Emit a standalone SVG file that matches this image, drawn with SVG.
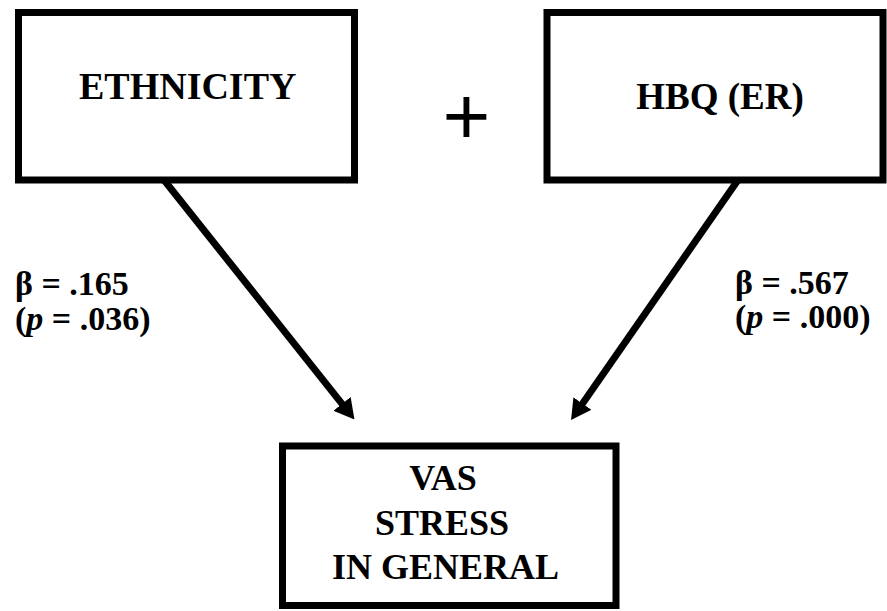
<svg xmlns="http://www.w3.org/2000/svg" width="887" height="611" viewBox="0 0 887 611">
<style>
.box{fill:#fff;stroke:#000;stroke-width:7}
text{font-family:'Liberation Serif','Times New Roman',Times,serif;font-weight:bold;fill:#000}
.lbl{font-size:34px}
.conn{stroke:#000;stroke-width:7;fill:none;marker-end:url(#ah)}
</style>
<defs>
<marker id="ah" markerUnits="userSpaceOnUse" viewBox="0 0 20 22" refX="8" refY="11" markerWidth="20" markerHeight="22" orient="auto">
<path d="M0,0 L20,11 L0,22 z" fill="#000"/>
</marker>
</defs>
<rect width="887" height="611" fill="#fff"/>
<g id="ethnicity">
<rect class="box" x="18.5" y="12.5" width="336" height="167.5"/>
<text x="187.7" y="99" font-size="38" text-anchor="middle">ETHNICITY</text>
</g>
<g id="hbq">
<rect class="box" x="547" y="12.5" width="336" height="167.5"/>
<text x="720" y="109" font-size="37" text-anchor="middle">HBQ (ER)</text>
</g>
<g id="vas">
<rect class="box" x="282.5" y="446" width="333.5" height="159.5"/>
<text x="443" y="490" font-size="36" text-anchor="middle">VAS</text>
<text x="442" y="535" font-size="36" text-anchor="middle">STRESS</text>
<text x="445.5" y="579" font-size="36" text-anchor="middle">IN GENERAL</text>
</g>
<g id="plus">
<text x="466.5" y="143.5" style="font-family:'Liberation Sans',Arial,sans-serif;font-weight:normal" font-size="82" text-anchor="middle">+</text>
</g>
<g id="connectors">
<line class="conn" x1="164" y1="180" x2="347" y2="410.1"/>
<line class="conn" x1="738" y1="180" x2="577.9" y2="410.15"/>
</g>
<g id="labels">
<text class="lbl" x="15" y="295">β = .165</text>
<text class="lbl" x="15" y="330">(<tspan font-style="italic">p</tspan> = .036)</text>
<text class="lbl" x="735" y="294">β = .567</text>
<text class="lbl" x="735" y="328">(<tspan font-style="italic">p</tspan> = .000)</text>
</g>
</svg>
